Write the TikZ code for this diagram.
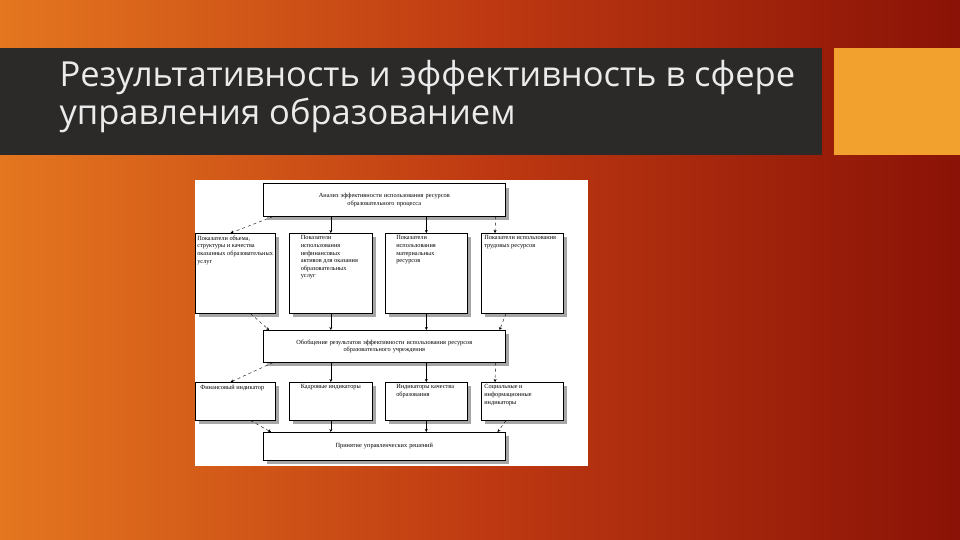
\documentclass[tikz,border=0pt]{standalone}
\usepackage{fontspec}
\setmainfont{Liberation Serif}
\newfontfamily\titlefont{Open Sans}
\usetikzlibrary{arrows.meta,shadings}
\definecolor{bgA}{HTML}{E4761F}
\definecolor{bgB}{HTML}{BF3A12}
\definecolor{bgC}{HTML}{8A1206}
\definecolor{barc}{HTML}{2B2A29}
\definecolor{sq}{HTML}{F2A02E}
\tikzset{
 bx/.style={draw=black,line width=0.6pt,fill=white,align=left,font=\fontsize{6.3}{7.6}\selectfont,inner sep=2pt,anchor=north west},
 sh/.style={fill=gray!70},
 ar/.style={-{Stealth[length=3pt,width=3pt]},line width=0.4pt},
 da/.style={ar,dashed},
}
\newcommand{\tb}[3]{\parbox[t][#2pt][t]{#1pt}{\raggedright #3}}
\begin{document}
\begin{tikzpicture}[x=1pt,y=-1pt]
\useasboundingbox (0,0) rectangle (960,540);
\shade[left color=bgA,right color=bgC,middle color=bgB] (0,0) rectangle (960,540);
\fill[barc] (0,48) rectangle (822,155);
\fill[sq] (834,48) rectangle (960,155);
\node[anchor=north west,text=white!92!black,align=left,font=\titlefont\fontsize{34.5}{38}\selectfont] (title) at (56,57) {Результативность и эффективность в сфере\\управления образованием};
\fill[white] (195,180) rectangle (588,466);
\foreach \a/\b/\c/\d in {267/188/509/220, 199/237/279/317, 293/237/376/317, 389/237/471/317, 485/237/567/317, 267/334/509/366, 199/386/279/424, 293/386/376/424, 389/386/471/424, 485/386/567/424, 267/436/509/464}
 \fill[sh] (\a,\b) rectangle (\c,\d);
\node[bx,minimum width=242,minimum height=33,align=center,text width=230] (top) at (263,183) {Анализ эффективности использования ресурсов\\образовательного процесса};
\node[bx,minimum width=80,minimum height=80] (a1) at (195,233) {\tb{76}{75}{Показатели объема, структуры и качества оказанных образовательных услуг}};
\node[bx,minimum width=83,minimum height=80] (a2) at (289,233) {\tb{60}{75}{Показатели использования нефинансовых активов для оказания образовательных услуг}};
\node[bx,minimum width=82,minimum height=80] (a3) at (385,233) {\tb{60}{75}{Показатели использования материальных ресурсов}};
\node[bx,minimum width=82,minimum height=80] (a4) at (481,233) {\tb{76}{75}{Показатели использования трудовых ресурсов}};
\node[bx,minimum width=242,minimum height=32,align=center,text width=238] (mid) at (263,330) {Обобщение результатов эффективности использования ресурсов\\образовательного учреждения};
\node[bx,minimum width=80,minimum height=38] (b1) at (195,382) {\tb{70}{33}{Финансовый индикатор}};
\node[bx,minimum width=83,minimum height=38] (b2) at (289,382) {\tb{60}{33}{Кадровые индикаторы}};
\node[bx,minimum width=82,minimum height=38] (b3) at (385,382) {\tb{60}{33}{Индикаторы качества образования}};
\node[bx,minimum width=82,minimum height=38] (b4) at (481,382) {\tb{76}{33}{Социальные и информационные индикаторы}};
\node[bx,minimum width=242,minimum height=28,align=center,text width=230] (bot) at (263,432) {Принятие управленческих решений};
\draw[da] ([xshift=10pt]top.south west) -- ([xshift=-45pt]a1.north east);
\draw[ar] (top.south -| a2.north) -- (a2.north);
\draw[ar] (top.south -| a3.north) -- (a3.north);
\draw[da] ([xshift=-10pt]top.south east) -- ([xshift=14pt]a4.north west);
\draw[da] ([xshift=-25pt]a1.south east) -- ([xshift=6pt]mid.north west);
\draw[ar] (a2.south) -- (a2.south |- mid.north);
\draw[ar] (a3.south) -- (a3.south |- mid.north);
\draw[da] ([xshift=25pt]a4.south west) -- ([xshift=-6pt]mid.north east);
\draw[da] ([xshift=10pt]mid.south west) -- ([xshift=-45pt]b1.north east);
\draw[ar] (mid.south -| b2.north) -- (b2.north);
\draw[ar] (mid.south -| b3.north) -- (b3.north);
\draw[da] ([xshift=-10pt]mid.south east) -- ([xshift=14pt]b4.north west);
\draw[da] ([xshift=-25pt]b1.south east) -- ([xshift=8pt]bot.north west);
\draw[ar] (b2.south) -- (b2.south |- bot.north);
\draw[ar] (b3.south) -- (b3.south |- bot.north);
\draw[da] ([xshift=25pt]b4.south west) -- ([xshift=-8pt]bot.north east);
\end{tikzpicture}
\end{document}
